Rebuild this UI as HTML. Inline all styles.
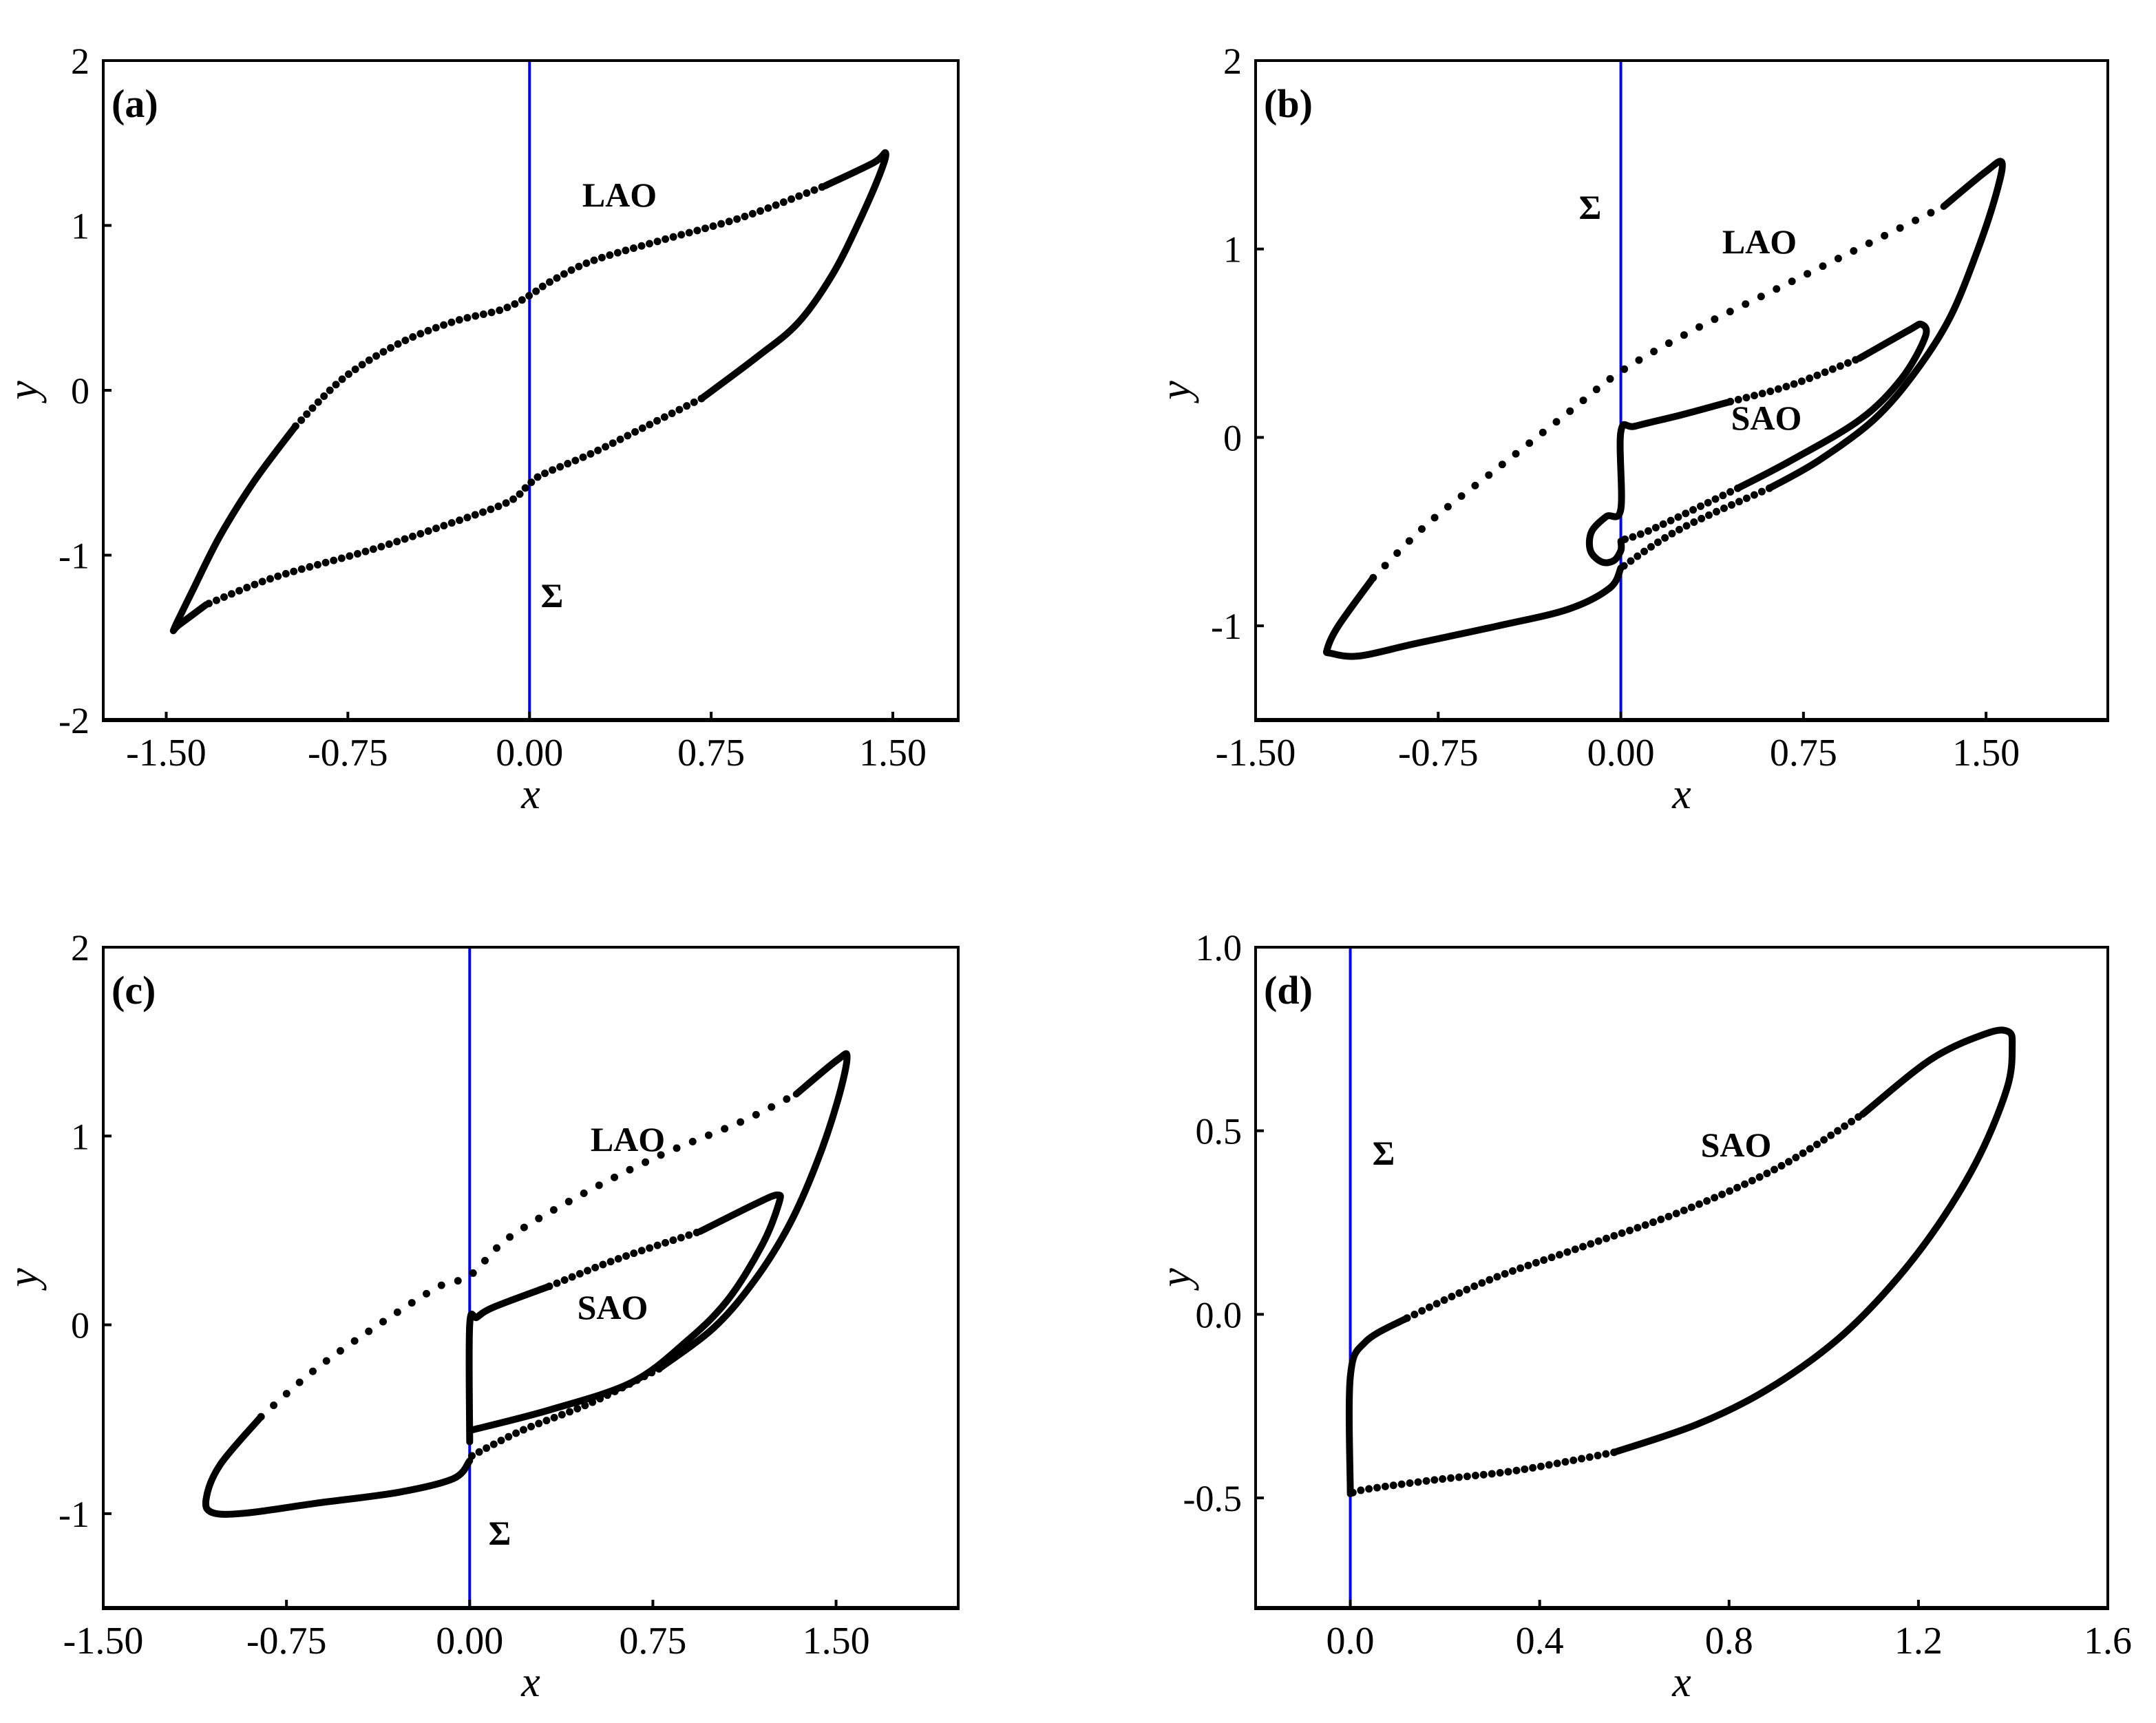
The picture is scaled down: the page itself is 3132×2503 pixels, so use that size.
<!DOCTYPE html>
<html><head><meta charset="utf-8"><style>
html,body{margin:0;padding:0;background:#fff;}
svg{display:block;}
text{font-family:"Liberation Serif",serif;fill:#000;}
</style></head><body>
<svg id="fig" width="3132" height="2503" viewBox="0 0 3132 2503" xmlns="http://www.w3.org/2000/svg"></svg>
<script>
// ---- data (data coordinates) ----
const aSolidLeft=[[-1.335,-1.3],[-1.449,-1.425],[-1.466,-1.442],[-1.392,-1.217],[-1.278,-0.883],[-1.136,-0.55],[-0.966,-0.217]];
const aDotUpper=[[-0.966,-0.217],[-0.767,0.075],[-0.54,0.283],[-0.3125,0.417],[-0.114,0.49],[0,0.575],[0.085,0.658],[0.256,0.783],[0.54,0.908],[0.88,1.05],[1.22,1.24]];
const aSolidRight=[[1.22,1.24],[1.42,1.38],[1.47,1.44],[1.45,1.325],[1.364,1.033],[1.25,0.7],[1.108,0.408],[0.9375,0.2],[0.71,-0.05]];
const aDotLower=[[0.71,-0.05],[0.483,-0.217],[0.256,-0.383],[0.057,-0.508],[0,-0.567],[-0.085,-0.675],[-0.3125,-0.8],[-0.653,-0.967],[-1.05,-1.133],[-1.335,-1.3]];

const bLaoLL=[[0,-0.693],[-0.046,-0.8],[-0.217,-0.912],[-0.503,-1.0],[-0.846,-1.095],[-1.074,-1.16],[-1.19,-1.146],[-1.206,-1.124],[-1.16,-1.0],[-1.017,-0.745]];
const bLaoUpper=[[-1.017,-0.745],[-0.789,-0.453],[-0.503,-0.16],[-0.217,0.131],[0,0.35],[0.297,0.569],[0.64,0.788],[0.983,1.007],[1.326,1.226]];
const bLaoRight=[[1.326,1.226],[1.497,1.409],[1.565,1.46],[1.543,1.3],[1.469,1.007],[1.354,0.642],[1.211,0.35],[1.04,0.095],[0.811,-0.124],[0.61,-0.27]];
const bLaoLower=[[0.61,-0.27],[0.24,-0.489],[0,-0.693]];
const bSaoSolid1=[[0,-0.55],[0,-0.6],[-0.03,-0.655],[-0.08,-0.66],[-0.125,-0.6],[-0.12,-0.5],[-0.06,-0.42],[0,-0.38],[0,0.03],[0.06,0.06],[0.25,0.12],[0.45,0.19]];
const bSaoDotUpper=[[0.45,0.19],[0.697,0.277],[0.98,0.42]];
const bSaoSolid2=[[0.98,0.42],[1.183,0.569],[1.235,0.6],[1.25,0.533],[1.154,0.314],[0.983,0.095],[0.697,-0.124],[0.48,-0.27]];
const bSaoDotLower=[[0.48,-0.27],[0.126,-0.489],[0,-0.547]];

const cLaoLL=[[0,-0.72],[-0.067,-0.815],[-0.292,-0.887],[-0.629,-0.945],[-0.91,-0.996],[-1.05,-0.996],[-1.079,-0.924],[-1.022,-0.742],[-0.854,-0.487]];
const cLaoUpper=[[-0.854,-0.487],[-0.629,-0.233],[-0.348,0.022],[-0.124,0.204],[0,0.26],[0.157,0.458],[0.438,0.676],[0.775,0.895],[1.112,1.076],[1.337,1.222]];
const cLaoRight=[[1.337,1.222],[1.506,1.404],[1.545,1.415],[1.506,1.185],[1.421,0.858],[1.309,0.531],[1.169,0.24],[1.0,-0.015],[0.775,-0.233]];
const cLaoLower=[[0.775,-0.233],[0.494,-0.415],[0.213,-0.56],[0,-0.7]];
const cSaoSolid1=[[0,-0.62],[0,0],[0.03,0.04],[0.101,0.095],[0.326,0.204]];
const cSaoDot=[[0.326,0.204],[0.607,0.349],[0.944,0.495]];
const cSaoSolid2=[[0.944,0.495],[1.169,0.64],[1.26,0.688],[1.265,0.64],[1.197,0.422],[1.056,0.131],[0.888,-0.087],[0.663,-0.305],[0.326,-0.451],[0,-0.56]];

const dSolid1=[[0,-0.489],[0,-0.17],[0.032,-0.075],[0.12,-0.01]];
const dDotUpper=[[0.12,-0.01],[0.294,0.094],[0.499,0.188],[0.703,0.282],[0.907,0.402],[1.082,0.545]];
const dSolid2=[[1.082,0.545],[1.227,0.695],[1.344,0.765],[1.39,0.77],[1.398,0.73],[1.388,0.62],[1.329,0.432],[1.242,0.244],[1.14,0.075],[1.023,-0.075],[0.878,-0.207],[0.732,-0.3],[0.557,-0.376]];
const dDotLower=[[0.557,-0.376],[0.353,-0.425],[0.178,-0.451],[0.032,-0.477],[0,-0.489]];

const abXTicks=[-1.5,-0.75,0,0.75,1.5];
const abXLabels=["-1.50","-0.75","0.00","0.75","1.50"];
const aYTicks=[-2,-1,0,1,2];
const aYLabels=["-2","-1","0","1","2"];
const bcYTicks=[-1,0,1,2];
const bcYLabels=["-1","0","1","2"];
const dXTicks=[0,0.4,0.8,1.2,1.6];
const dXLabels=["0.0","0.4","0.8","1.2","1.6"];
const dYTicks=[-0.5,0,0.5,1.0];
const dYLabels=["-0.5","0.0","0.5","1.0"];

const NS="http://www.w3.org/2000/svg";
const svg=document.getElementById('fig');
function mk(tag,attrs,parent){const e=document.createElementNS(NS,tag);for(const k in attrs)e.setAttribute(k,attrs[k]);(parent||svg).appendChild(e);return e;}

function panel(id,L,R,T,B,xmin,xmax,ymin,ymax){
  const g=mk('g',{});
  
  
  return {g,L,R,T,B,sx:v=>L+(v-xmin)/(xmax-xmin)*(R-L),sy:v=>B-(v-ymin)/(ymax-ymin)*(B-T)};
}
function smoothPath(P,pts){
  const p=pts.map(q=>[P.sx(q[0]),P.sy(q[1])]);
  let d='M'+p[0][0].toFixed(1)+' '+p[0][1].toFixed(1);
  for(let i=0;i<p.length-1;i++){
    const p0=p[Math.max(0,i-1)],p1=p[i],p2=p[i+1],p3=p[Math.min(p.length-1,i+2)];
    const c1=[p1[0]+(p2[0]-p0[0])/6,p1[1]+(p2[1]-p0[1])/6];
    const c2=[p2[0]-(p3[0]-p1[0])/6,p2[1]-(p3[1]-p1[1])/6];
    d+=' C'+c1.map(v=>v.toFixed(1)).join(' ')+' '+c2.map(v=>v.toFixed(1)).join(' ')+' '+p2[0].toFixed(1)+' '+p2[1].toFixed(1);
  }
  return d;
}
function curve(P,pts,style,name){
  const a={d:smoothPath(P,pts),fill:'none',stroke:'#000','stroke-linecap':'round','stroke-linejoin':'round'};
  if(style==='solid'){a['stroke-width']=10;}
  else if(style==='dense'){a['stroke-width']=11;a['stroke-dasharray']='0 12';}
  else {a['stroke-width']=11;a['stroke-dasharray']='0 25';}
  const e=mk('path',a,P.g);
  
  
}
function sigmaLine(P){
  const e=mk('line',{x1:P.sx(0),x2:P.sx(0),y1:P.T,y2:P.B,stroke:'#0000ff','stroke-width':4},P.g);
  
  
}
function txt(P,x,y,s,attrs,name){
  const e=mk('text',Object.assign({x:x,y:y},attrs),P.g);
  e.textContent=s;
  
  
  return e;
}
function axes(P,xt,xl,yt,yl,letter,lx,ly){
  const f=mk('rect',{x:P.L,y:P.T,width:P.R-P.L,height:P.B-P.T,fill:'none',stroke:'#000','stroke-width':4},P.g);
  
  
  const bb=mk('line',{x1:P.L-2,x2:P.R+2,y1:P.B,y2:P.B,stroke:'#000','stroke-width':6},P.g);
  
  
  xt.forEach((v,i)=>{
    const x=P.sx(v);
    const t=mk('line',{x1:x,x2:x,y1:P.B,y2:P.B-12,stroke:'#000','stroke-width':4},P.g);
    
    
    txt(P,x,P.B+66,xl[i],{'font-size':56,'text-anchor':'middle'},'x-tick-label');
  });
  yt.forEach((v,i)=>{
    const y=P.sy(v);
    const t=mk('line',{x1:P.L,x2:P.L+12,y1:y,y2:y,stroke:'#000','stroke-width':4},P.g);
    
    
    txt(P,P.L-20,y+19,yl[i],{'font-size':54,'text-anchor':'end'},'y-tick-label');
  });
  txt(P,(P.L+P.R)/2,P.B+128,'x',{'font-size':62,'font-style':'italic','text-anchor':'middle'},'x-axis-title');
  txt(P,0,0,'y',{'font-size':62,'font-style':'italic','text-anchor':'middle',transform:'translate('+(P.L-96)+','+((P.T+P.B)/2)+') rotate(-90)'},'y-axis-title');
  txt(P,P.L+12,P.T+ly,letter,{'font-size':58,'font-weight':'bold'},'panel-label');
}
const lab={'font-size':50,'font-weight':'bold','text-anchor':'middle'};

// Panel a
const A=panel('a',150,1392,88,1046,-1.76,1.77,-2,2);
sigmaLine(A);
curve(A,aSolidLeft,'solid','lao-left-arc');
curve(A,aDotUpper,'dense','lao-upper-branch');
curve(A,aSolidRight,'solid','lao-right-arc');
curve(A,aDotLower,'dense','lao-lower-branch');
axes(A,abXTicks,abXLabels,aYTicks,aYLabels,'(a)',16,82);
txt(A,900,300,'LAO',lab,'lao-label');
txt(A,802,882,'Σ',lab,'sigma-label');

// Panel b
const B=panel('b',1824,3062,88,1046,-1.5,2.0,-1.5,2);
sigmaLine(B);
curve(B,bLaoLL,'solid','lao-lower-left');
curve(B,bLaoUpper,'sparse','lao-upper-branch');
curve(B,bLaoRight,'solid','lao-right-arc');
curve(B,bLaoLower,'dense','lao-lower-branch');
curve(B,bSaoSolid1,'solid','sao-sliding-segment');
curve(B,bSaoDotUpper,'dense','sao-upper-branch');
curve(B,bSaoSolid2,'solid','sao-right-arc');
curve(B,bSaoDotLower,'dense','sao-lower-branch');
axes(B,abXTicks,abXLabels,bcYTicks,bcYLabels,'(b)',16,82);
txt(B,2310,318,'Σ',lab,'sigma-label');
txt(B,2556,368,'LAO',lab,'lao-label');
txt(B,2566,624,'SAO',lab,'sao-label');

// Panel c
const C=panel('c',150,1392,1376,2336,-1.5,2.0,-1.5,2);
sigmaLine(C);
curve(C,cLaoLL,'solid','lao-lower-left');
curve(C,cLaoUpper,'sparse','lao-upper-branch');
curve(C,cLaoRight,'solid','lao-right-arc');
curve(C,cLaoLower,'dense','lao-lower-branch');
curve(C,cSaoSolid1,'solid','sao-sliding-segment');
curve(C,cSaoDot,'dense','sao-upper-branch');
curve(C,cSaoSolid2,'solid','sao-right-arc');
axes(C,abXTicks,abXLabels,bcYTicks,bcYLabels,'(c)',16,82);
txt(C,912,1672,'LAO',lab,'lao-label');
txt(C,890,1916,'SAO',lab,'sao-label');
txt(C,726,2244,'Σ',lab,'sigma-label');

// Panel d
const D=panel('d',1824,3062,1376,2336,-0.2,1.6,-0.8,1.0);
sigmaLine(D);
curve(D,dSolid1,'solid','sao-sliding-segment');
curve(D,dDotUpper,'dense','sao-upper-branch');
curve(D,dSolid2,'solid','sao-right-arc');
curve(D,dDotLower,'dense','sao-lower-branch');
axes(D,dXTicks,dXLabels,dYTicks,dYLabels,'(d)',16,82);
txt(D,2010,1692,'Σ',lab,'sigma-label');
txt(D,2522,1680,'SAO',lab,'sao-label');
</script>
</body></html>
